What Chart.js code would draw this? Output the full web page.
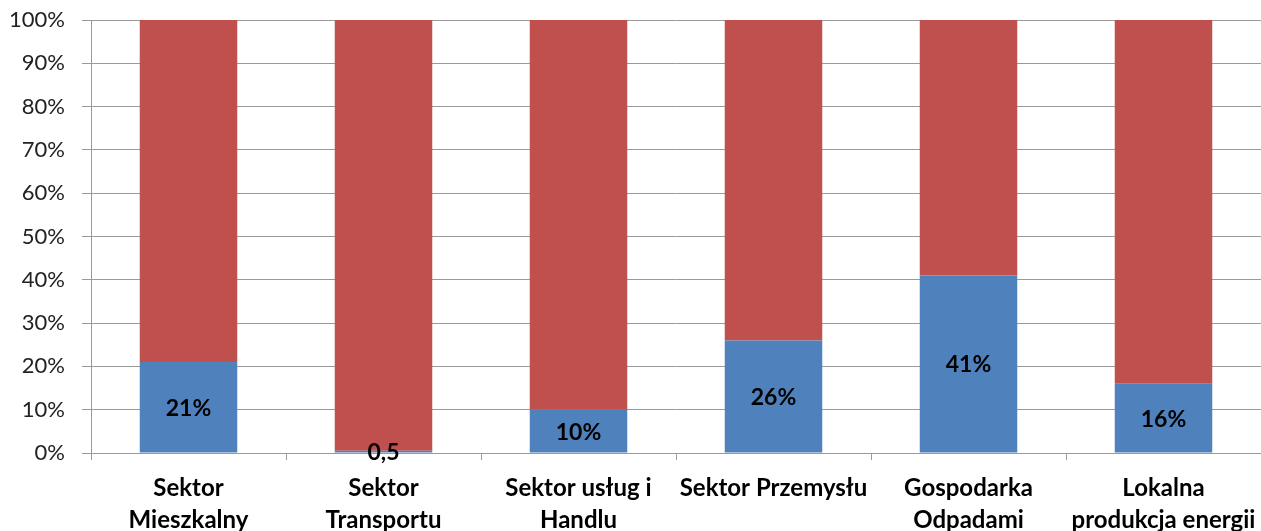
<!DOCTYPE html>
<html>
<head>
<meta charset="utf-8">
<script src="https://cdn.jsdelivr.net/npm/chart.js@4.4.1/dist/chart.umd.min.js"></script>
<style>
  html, body { margin: 0; padding: 0; background: #ffffff; }
  #wrap { width: 1261px; height: 531px; }
</style>
</head>
<body>
<div id="wrap"><canvas id="c" width="1261" height="531"></canvas></div>
<script>
const categories = [
  ['Sektor', 'Mieszkalny'],
  ['Sektor', 'Transportu'],
  ['Sektor usług i', 'Handlu'],
  'Sektor Przemysłu',
  ['Gospodarka', 'Odpadami'],
  ['Lokalna', 'produkcja energii']
];
const blueValues = [21, 0.5, 10, 26, 41, 16];
const redValues = [79, 99.5, 90, 74, 59, 84];
const blueLabels = ['21%', '0,5', '10%', '26%', '41%', '16%'];
const yTickValues = [0, 10, 20, 30, 40, 50, 60, 70, 80, 90, 100];

const FONT = 'Lato, "Open Sans", sans-serif';

const labelPlugin = {
  id: 'barLabels',
  afterDatasetsDraw(chart) {
    const meta = chart.getDatasetMeta(0);
    const ctx = chart.ctx;
    ctx.save();
    ctx.font = 'bold 23px ' + FONT;
    ctx.fillStyle = '#000000';
    ctx.textAlign = 'center';
    ctx.textBaseline = 'middle';
    meta.data.forEach((el, i) => {
      const y = (el.y + el.base) / 2;
      ctx.fillText(blueLabels[i], el.x, y + 1);
    });
    ctx.restore();
  }
};

new Chart(document.getElementById('c'), {
  type: 'bar',
  data: {
    labels: categories,
    datasets: [
      { label: 'A', data: blueValues, backgroundColor: '#4F81BD', borderWidth: 0 },
      { label: 'B', data: redValues, backgroundColor: '#C0504D', borderWidth: 0 }
    ]
  },
  options: {
    responsive: false,
    animation: false,
    layout: { padding: { top: 20, right: 0, left: 0, bottom: 0 } },
    plugins: { legend: { display: false }, tooltip: { enabled: false } },
    datasets: { bar: { categoryPercentage: 1.0, barPercentage: 0.5 } },
    scales: {
      x: {
        stacked: true,
        offset: true,
        grid: {
          offset: true,
          drawOnChartArea: false,
          drawTicks: true,
          tickLength: 7,
          color: '#9a9a9a',
          lineWidth: 1
        },
        border: { display: true, color: '#9a9a9a', width: 1 },
        ticks: {
          color: '#000000',
          font: { family: FONT, size: 24, weight: 'bold', lineHeight: 1.3 },
          padding: 13,
          maxRotation: 0,
          autoSkip: false
        },
        afterFit(scale) {
          scale.height = 78;
          scale.paddingLeft = 0; scale.paddingRight = 0;
          scale.paddingTop = 0; scale.paddingBottom = 0;
        }
      },
      y: {
        stacked: true,
        min: 0,
        max: 100,
        afterBuildTicks(scale) { scale.ticks = yTickValues.map(v => ({ value: v })); },
        grid: {
          color: '#9a9a9a',
          lineWidth: 1,
          tickLength: 9
        },
        border: { display: true, color: '#9a9a9a', width: 1 },
        ticks: {
          color: '#222222',
          font: { family: FONT, size: 22 },
          padding: 17,
          callback: (v) => v + '%'
        },
        afterFit(scale) {
          scale.width = 91;
          scale.paddingTop = 0; scale.paddingBottom = 0;
          scale.paddingLeft = 0; scale.paddingRight = 0;
        }
      }
    }
  },
  plugins: [labelPlugin]
});
</script>
</body>
</html>
